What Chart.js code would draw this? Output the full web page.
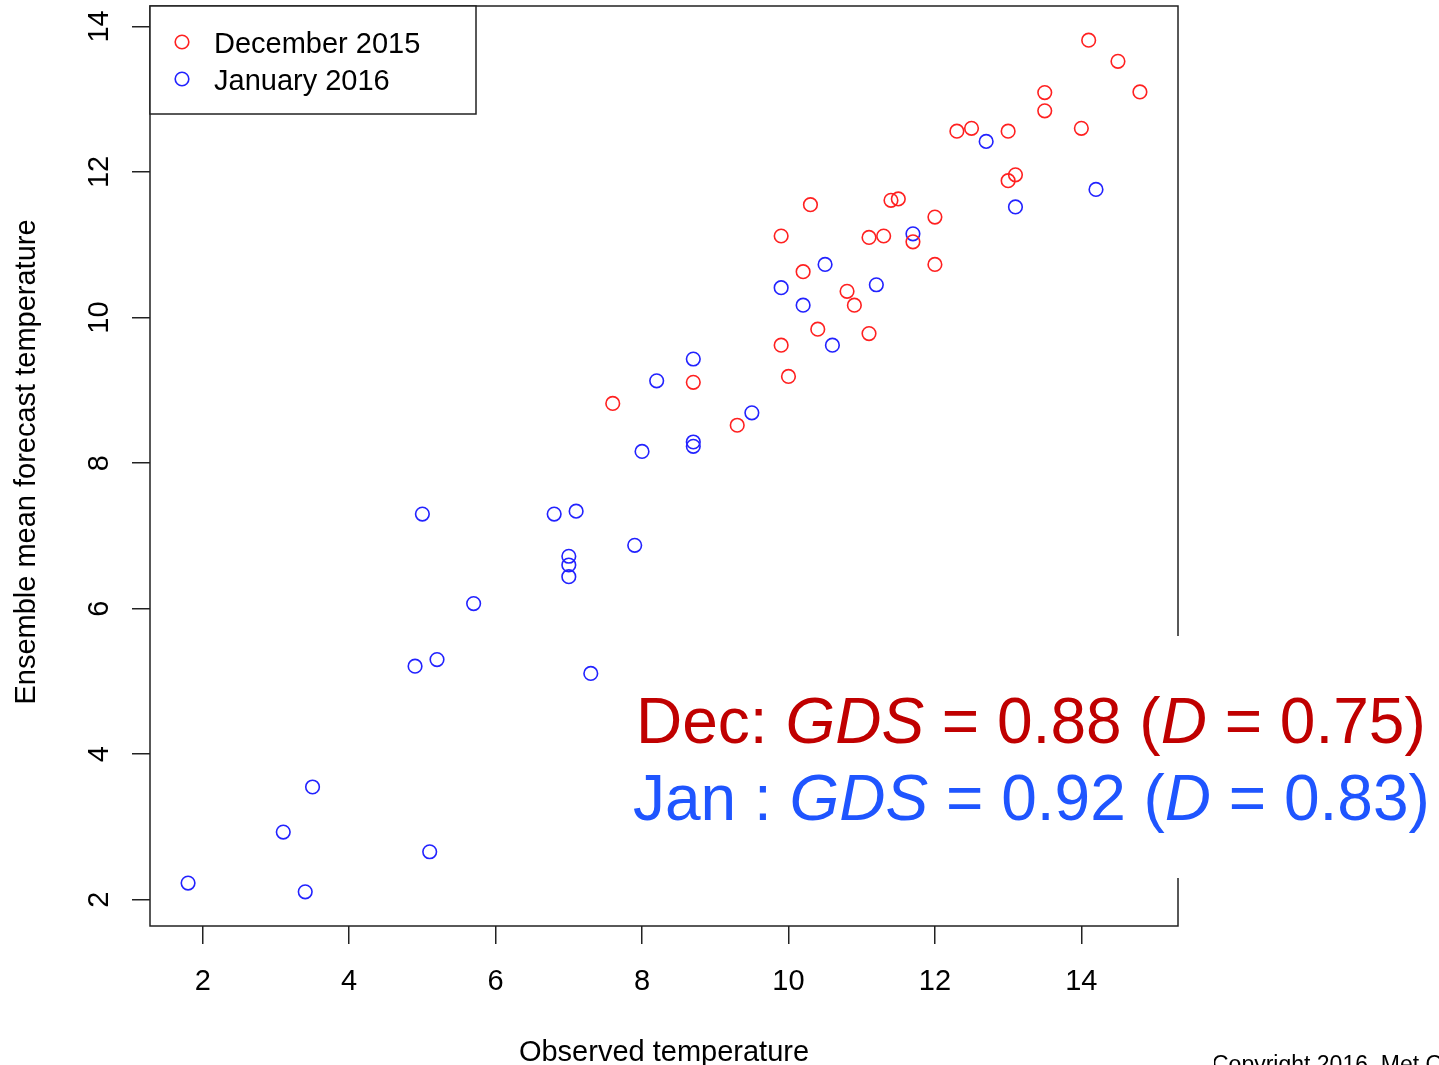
<!DOCTYPE html>
<html>
<head>
<meta charset="utf-8">
<script src="https://cdn.jsdelivr.net/npm/chart.js@4"></script>
<style>
  html, body { margin: 0; padding: 0; background: #fff; }
  #wrap { width: 1439px; height: 1065px; position: relative; }
</style>
</head>
<body>
<div id="wrap"><canvas id="chart1"></canvas></div>
<script>
"use strict";
const FONT = '"Liberation Sans", Arial, sans-serif';
const AXIS_COLOR = '#222222';

// Observed vs ensemble mean forecast, one point per day
const decObserved = [14.1, 14.5, 14.8, 13.5, 13.5, 14.0, 12.3, 12.5, 13.0, 13.0, 13.1, 10.3, 11.4, 11.5, 12.0,
    9.9, 11.1, 11.3, 11.7, 12.0, 10.2, 10.8, 10.9, 10.4, 11.1, 9.9, 10.0, 8.7, 7.6, 9.3];
const decForecast = [13.81, 13.52, 13.10, 13.09, 12.84, 12.60, 12.56, 12.60, 12.56, 11.88, 11.96, 11.55, 11.61, 11.63, 11.38,
    11.12, 11.10, 11.12, 11.04, 10.73, 10.63, 10.36, 10.17, 9.84, 9.78, 9.62, 9.19, 9.11, 8.82, 8.52];
const janObserved = [12.7, 14.2, 13.1, 11.7, 10.5, 9.9, 11.2, 10.2, 10.6, 8.7, 8.2, 9.5, 8.7, 8.7, 8.0, 6.8,
    7.1, 5.0, 7.0, 7.0, 7.0, 7.9, 5.7, 4.9, 5.2, 7.3, 3.5, 3.1, 5.1, 1.8, 3.4];
const janForecast = [12.42, 11.76, 11.52, 11.15, 10.73, 10.41, 10.45, 10.17, 9.62, 9.43, 9.13, 8.69, 8.29, 8.23, 8.16, 7.30,
    7.34, 7.30, 6.72, 6.60, 6.44, 6.87, 6.07, 5.21, 5.30, 5.11, 3.55, 2.93, 2.66, 2.23, 2.11];

const xTicks = [2, 4, 6, 8, 10, 12, 14];
const yTicks = [2, 4, 6, 8, 10, 12, 14];
const seriesLabels = ['December 2015', 'January 2016'];
const seriesColors = ['#ff2020', '#2222ff'];

const xTitle = 'Observed temperature';
const yTitle = 'Ensemble mean forecast temperature';
const copyright = 'Copyright 2016, Met Office';

// score lines: [text, italic?] pieces
const scoreLines = [
    { color: '#c00000', parts: [['Dec: ', false], ['GDS', true], [' = 0.88 (', false], ['D', true], [' = 0.75)', false]] },
    { color: '#1f55ff', parts: [['Jan : ', false], ['GDS', true], [' = 0.92 (', false], ['D', true], [' = 0.83)', false]] }
];

function toPoints(xs, ys) {
    return xs.map((x, i) => ({ x: x, y: ys[i] }));
}

// R-style frame, tick labels, titles, legend and score box
const rStyle = {
    id: 'rStyle',
    afterDraw(chart) {
        const ctx = chart.ctx;
        const area = chart.chartArea;
        const sx = chart.scales.x;
        const sy = chart.scales.y;
        ctx.save();

        // plot box
        ctx.strokeStyle = AXIS_COLOR;
        ctx.lineWidth = 1.5;
        ctx.strokeRect(area.left, area.top, area.right - area.left, area.bottom - area.top);

        // tick labels
        ctx.fillStyle = '#000';
        ctx.font = `29px ${FONT}`;
        ctx.textAlign = 'center';
        ctx.textBaseline = 'alphabetic';
        xTicks.forEach(v => ctx.fillText(String(v), sx.getPixelForValue(v), 990));
        yTicks.forEach(v => {
            ctx.save();
            ctx.translate(108, sy.getPixelForValue(v));
            ctx.rotate(-Math.PI / 2);
            ctx.fillText(String(v), 0, 0);
            ctx.restore();
        });

        // axis titles
        ctx.fillText(xTitle, (area.left + area.right) / 2, 1061);
        ctx.save();
        ctx.translate(35, 462);
        ctx.rotate(-Math.PI / 2);
        ctx.fillText(yTitle, 0, 0);
        ctx.restore();

        // legend
        ctx.fillStyle = '#fff';
        ctx.fillRect(area.left, area.top, 326, 108);
        ctx.strokeRect(area.left, area.top, 326, 108);
        ctx.textAlign = 'left';
        chart.data.datasets.forEach((ds, i) => {
            const y = 42 + i * 37;
            ctx.beginPath();
            ctx.arc(182, y, 6.8, 0, Math.PI * 2);
            ctx.strokeStyle = ds.borderColor;
            ctx.lineWidth = 1.6;
            ctx.stroke();
            ctx.fillStyle = '#000';
            ctx.fillText(ds.label, 214, y + 10.5);
        });

        // score annotation on a white panel
        ctx.fillStyle = '#fff';
        ctx.fillRect(620, 636, 1439 - 620, 242);
        const starts = [[636, 743], [633, 820]];
        scoreLines.forEach((line, i) => {
            let x = starts[i][0];
            ctx.fillStyle = line.color;
            line.parts.forEach(([txt, italic]) => {
                ctx.font = `${italic ? 'italic ' : ''}64px ${FONT}`;
                ctx.fillText(txt, x, starts[i][1]);
                x += ctx.measureText(txt).width;
            });
        });

        // footer
        ctx.fillStyle = '#000';
        ctx.font = `23px ${FONT}`;
        ctx.beginPath();
        ctx.rect(1214, 1000, 300, 100);
        ctx.clip();
        ctx.fillText(copyright, 1212, 1072);

        ctx.restore();
    }
};

window.addEventListener('DOMContentLoaded', () => {
    const canvas = document.getElementById('chart1');
    new Chart(canvas, {
        type: 'scatter',
        data: {
            datasets: [
                { label: seriesLabels[0], data: toPoints(decObserved, decForecast), borderColor: seriesColors[0] },
                { label: seriesLabels[1], data: toPoints(janObserved, janForecast), borderColor: seriesColors[1] }
            ].map(ds => Object.assign(ds, {
                backgroundColor: 'rgba(0,0,0,0)',
                pointStyle: 'circle',
                pointRadius: 6.8,
                pointHoverRadius: 6.8,
                borderWidth: 1.6
            }))
        },
        options: {
            responsive: true,
            maintainAspectRatio: false,
            animation: false,
            layout: { autoPadding: false, padding: { left: 0, top: 6, right: 261, bottom: 0 } },
            plugins: {
                legend: { display: false },
                tooltip: { enabled: false }
            },
            scales: {
                x: {
                    type: 'linear',
                    min: 1.28,
                    max: 15.32,
                    afterBuildTicks: s => { s.ticks = xTicks.map(v => ({ value: v })); },
                    afterFit: s => { s.height = 139; },
                    ticks: { display: false },
                    border: { display: false },
                    grid: { drawOnChartArea: false, drawTicks: true, tickLength: 18, color: AXIS_COLOR, lineWidth: 1.5 }
                },
                y: {
                    type: 'linear',
                    min: 1.64,
                    max: 14.28,
                    afterBuildTicks: s => { s.ticks = yTicks.map(v => ({ value: v })); },
                    afterFit: s => { s.width = 150; },
                    ticks: { display: false },
                    border: { display: false },
                    grid: { drawOnChartArea: false, drawTicks: true, tickLength: 18, color: AXIS_COLOR, lineWidth: 1.5 }
                }
            }
        },
        plugins: [rStyle]
    });
});
</script>
</body>
</html>
